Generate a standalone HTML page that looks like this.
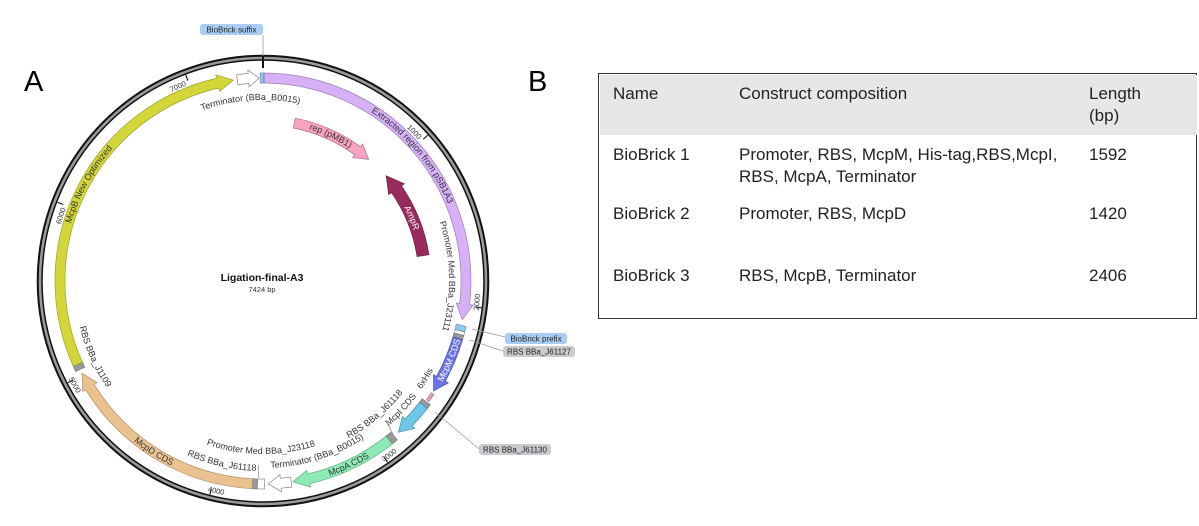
<!DOCTYPE html>
<html><head><meta charset="utf-8"><style>
html,body{margin:0;padding:0;background:#fff;}
body{width:1199px;height:526px;position:relative;overflow:hidden;font-family:"Liberation Sans",sans-serif;}
.big{position:absolute;font-size:29px;color:#000;}
.t{position:absolute;font-size:17px;color:#222;line-height:22px;}
</style></head><body>
<div class="big" style="left:24px;top:66px">A</div>
<div class="big" style="left:528px;top:66px">B</div>

<div style="position:absolute;left:598px;top:73px;width:597px;height:244px;border:1.5px solid #333;"></div>
<div style="position:absolute;left:599.5px;top:74.5px;width:597px;height:60px;background:#e7e7e7;"></div>
<div class="t" style="left:613px;top:83px">Name</div>
<div class="t" style="left:739px;top:83px">Construct composition</div>
<div class="t" style="left:1089px;top:83px">Length<br>(bp)</div>
<div class="t" style="left:613px;top:144px">BioBrick 1</div>
<div class="t" style="left:739px;top:144px">Promoter, RBS, McpM, His-tag,RBS,McpI,<br>RBS, McpA, Terminator</div>
<div class="t" style="left:1089px;top:144px">1592</div>
<div class="t" style="left:613px;top:203px">BioBrick 2</div>
<div class="t" style="left:739px;top:203px">Promoter, RBS, McpD</div>
<div class="t" style="left:1089px;top:203px">1420</div>
<div class="t" style="left:613px;top:265px">BioBrick 3</div>
<div class="t" style="left:739px;top:265px">RBS, McpB, Terminator</div>
<div class="t" style="left:1089px;top:265px">2406</div>

<svg id="map" width="600" height="526" style="position:absolute;left:0;top:0" font-family="Liberation Sans, DejaVu Sans, sans-serif">
<defs id="defs"></defs>
<g id="shapes"></g>
<g font-size="9" fill="#333">
<text><textPath href="#tTermTop" startOffset="50%" text-anchor="middle">Terminator (BBa_B0015)</textPath></text>
<text><textPath href="#tExt" startOffset="50%" text-anchor="middle">Extracted region from pSB1A3</textPath></text>
<text><textPath href="#tMcpB" startOffset="50%" text-anchor="middle">McpB New Optimized</textPath></text>
<text><textPath href="#tRep" startOffset="50%" text-anchor="middle">rep (pMB1)</textPath></text>
<text fill="#fff"><textPath href="#tAmp" startOffset="50%" text-anchor="middle">AmpR</textPath></text>
<text><textPath href="#tProm1" startOffset="50%" text-anchor="middle">Promoter Med BBa_J23111</textPath></text>
<text fill="#fff"><textPath href="#tMcpM" startOffset="50%" text-anchor="middle">McpM CDS</textPath></text>
<text><textPath href="#t6x" startOffset="50%" text-anchor="middle">6xHis</textPath></text>
<text><textPath href="#tMcpI" startOffset="50%" text-anchor="middle">McpI CDS</textPath></text>
<text><textPath href="#tRbs1" startOffset="50%" text-anchor="middle">RBS BBa_J61118</textPath></text>
<text><textPath href="#tMcpA" startOffset="50%" text-anchor="middle">McpA CDS</textPath></text>
<text><textPath href="#tTermBot" startOffset="50%" text-anchor="middle">Terminator (BBa_B0015)</textPath></text>
<text><textPath href="#tProm2" startOffset="50%" text-anchor="middle">Promoter Med BBa_J23118</textPath></text>
<text><textPath href="#tRbs2" startOffset="50%" text-anchor="middle">RBS BBa_J61118</textPath></text>
<text><textPath href="#tMcpD" startOffset="50%" text-anchor="middle">McpD CDS</textPath></text>
<text><textPath href="#tRbs3" startOffset="50%" text-anchor="middle">RBS BBa_J1109</textPath></text>
</g>
<g font-size="7.5" fill="#333">
<text><textPath href="#k1" startOffset="100%" text-anchor="end">1000</textPath></text>
<text><textPath href="#k2" startOffset="0%">2000</textPath></text>
<text><textPath href="#k3" startOffset="0%">3000</textPath></text>
<text><textPath href="#k4" startOffset="0%">4000</textPath></text>
<text><textPath href="#k5" startOffset="0%">5000</textPath></text>
<text><textPath href="#k6" startOffset="100%" text-anchor="end">6000</textPath></text>
<text><textPath href="#k7" startOffset="100%" text-anchor="end">7000</textPath></text>
</g>
<text x="262" y="281" font-size="10.5" font-weight="bold" text-anchor="middle" fill="#111">Ligation-final-A3</text>
<text x="262" y="292" font-size="7.5" text-anchor="middle" fill="#333">7424 bp</text>
<line x1="263" y1="35" x2="263" y2="56" stroke="#999" stroke-width="0.8"/>
<rect x="200" y="24" width="63" height="11" rx="3" fill="#a9cdf4"/>
<text x="231.5" y="32.5" font-size="8" text-anchor="middle" fill="#222">BioBrick suffix</text>
<line x1="472" y1="329" x2="505" y2="337" stroke="#999" stroke-width="0.8"/>
<rect x="505" y="333" width="62" height="11" rx="3" fill="#a9cdf4"/>
<text x="536" y="341.5" font-size="8" text-anchor="middle" fill="#222">BioBrick prefix</text>
<line x1="470" y1="340" x2="503" y2="351" stroke="#999" stroke-width="0.8"/>
<rect x="503" y="346" width="72" height="11" rx="3" fill="#cbcbcf"/>
<text x="539" y="354.5" font-size="8" text-anchor="middle" fill="#222">RBS BBa_J61127</text>
<line x1="435" y1="412" x2="479" y2="449" stroke="#999" stroke-width="0.8"/>
<rect x="479" y="444" width="72" height="11" rx="3" fill="#cbcbcf"/>
<text x="515" y="452.5" font-size="8" text-anchor="middle" fill="#222">RBS BBa_J61130</text>
<line x1="386" y1="421" x2="393" y2="434" stroke="#999" stroke-width="0.8"/>
<line x1="258.5" y1="465" x2="258.5" y2="478" stroke="#999" stroke-width="0.8"/>
</svg>
<script>
(function(){
var cx=263,cy=281,NS="http://www.w3.org/2000/svg";
function P(r,a){var t=a*Math.PI/180;return (cx+r*Math.sin(t)).toFixed(2)+" "+(cy-r*Math.cos(t)).toFixed(2);}
function L(a1,a2){return Math.abs(a2-a1)>180?1:0;}
var sh=document.getElementById("shapes"),defs=document.getElementById("defs");
function add(tag,attrs,parent){var e=document.createElementNS(NS,tag);for(var k in attrs)e.setAttribute(k,attrs[k]);(parent||sh).appendChild(e);return e;}
add("circle",{cx:cx,cy:cy,r:223.2,fill:"none",stroke:"#9a9a9a","stroke-width":4});
add("circle",{cx:cx,cy:cy,r:225.3,fill:"none",stroke:"#111","stroke-width":2});
add("circle",{cx:cx,cy:cy,r:221,fill:"none",stroke:"#111","stroke-width":1.5});
for(var i=1;i<=7;i++){var a=i*1000/7424*360;add("path",{d:"M"+P(220,a)+"L"+P(214,a),stroke:"#222","stroke-width":1.2});}
add("path",{d:"M"+P(225,0)+"L"+P(213,0),stroke:"#111","stroke-width":2});
function feat(r1,r2,a1,a2,dir,fill,stroke,h){
  h=h||4.5;var m=(r1+r2)/2,d;
  if(dir==1){d="M"+P(r2,a1)+"A"+r2+" "+r2+" 0 "+L(a1,a2-h)+" 1 "+P(r2,a2-h)+"L"+P(r2+3.5,a2-h)+"L"+P(m,a2)+"L"+P(r1-3.5,a2-h)+"L"+P(r1,a2-h)+"A"+r1+" "+r1+" 0 "+L(a1,a2-h)+" 0 "+P(r1,a1)+"Z";}
  else if(dir==-1){d="M"+P(r2,a1+h)+"A"+r2+" "+r2+" 0 "+L(a1+h,a2)+" 1 "+P(r2,a2)+"L"+P(r1,a2)+"A"+r1+" "+r1+" 0 "+L(a1+h,a2)+" 0 "+P(r1,a1+h)+"L"+P(r1-3.5,a1+h)+"L"+P(m,a1)+"L"+P(r2+3.5,a1+h)+"Z";}
  else {d="M"+P(r2,a1)+"A"+r2+" "+r2+" 0 "+L(a1,a2)+" 1 "+P(r2,a2)+"L"+P(r1,a2)+"A"+r1+" "+r1+" 0 "+L(a1,a2)+" 0 "+P(r1,a1)+"Z";}
  add("path",{d:d,fill:fill,stroke:stroke||"#777","stroke-width":0.7});
}
var R1=198,R2=208;
feat(R1,R2,0.4,101,1,"#d8b0f7","#9a80b0");
feat(R1,R2,102.6,104.2,0,"#8fc7f0","#6f8fb0");
feat(R1,R2,104.2,105.2,0,"#ffffff","#888");
feat(R1,R2,105.2,106.4,0,"#999","#777");
feat(R1,R2,106.4,122.8,1,"#6a74e6","#4a54b0",4);
feat(202,205,123.6,126,0,"#e3a3c2","#a07090");
feat(R1,R2,126.5,127.8,0,"#999","#777");
feat(R1,R2,127.8,138.2,1,"#6ec6e8","#4a90b0",4);
feat(R1,R2,139.8,141.6,0,"#999","#777");
feat(R1,R2,141.6,171.5,1,"#8de9b6","#5aa880");
feat(R1,R2,172,178.5,1,"#ffffff","#888",3.5);
feat(R1,R2,179.6,181.6,0,"#ffffff","#888");
feat(R1,R2,181.6,183,0,"#999","#777");
feat(R1,R2,183,243,1,"#e9c28f","#b09070");
feat(R1,R2,244.2,245.8,0,"#999","#777");
feat(R1,R2,245.8,351.6,1,"#d3d638","#a0a030");
feat(R1,R2,352.7,358.9,1,"#ffffff","#888",3);
feat(R1,R2,359.2,360.2,0,"#8fc7f0","#6f8fb0");
feat(156,166,11.2,41,1,"#f7a3c2","#b07090",5);
feat(156,168,49.5,81,-1,"#982a5d","#701f45",6);
function cw(id,r,a1,a2){add("path",{id:id,d:"M"+P(r,a1)+"A"+r+" "+r+" 0 "+L(a1,a2)+" 1 "+P(r,a2),fill:"none"},defs);}
function ccw(id,r,a1,a2){add("path",{id:id,d:"M"+P(r,a2)+"A"+r+" "+r+" 0 "+L(a1,a2)+" 0 "+P(r,a1),fill:"none"},defs);}
cw("tTermTop",181,-34,26);
cw("tExt",200.5,10,90);
cw("tMcpB",200.5,259,339);
cw("tRep",158.5,-5,55);
cw("tAmp",159,37,97);
cw("tProm1",186,48.5,128.5);
ccw("tMcpM",206,83,143);
ccw("t6x",192,91,151);
ccw("tMcpI",192,103,163);
ccw("tRbs1",179,110,170);
ccw("tMcpA",206,125,185);
ccw("tTermBot",187,132.5,192.5);
ccw("tProm2",173,150.7,210.7);
ccw("tRbs2",190,162.8,222.8);
ccw("tMcpD",206,182.6,242.6);
ccw("tRbs3",189,215.8,275.8);
for(var i=1;i<=7;i++){var a=i*1000/7424*360;
 if(a<90||a>270){cw("k"+i,210,a-40,a-0.8);} else {ccw("k"+i,217.5,a-40,a+0.8);}
}
})();
</script>
</body></html>
